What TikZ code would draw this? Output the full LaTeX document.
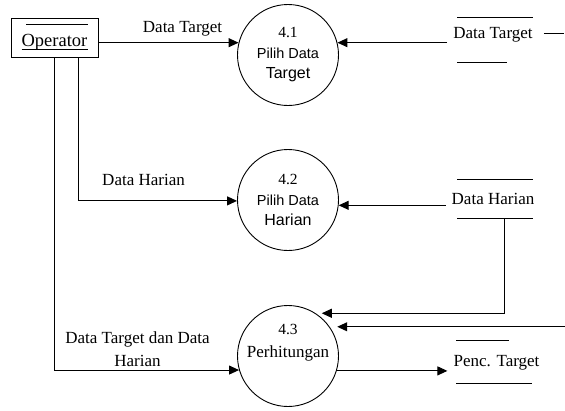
\documentclass[tikz,border=0pt]{standalone}
\usepackage{fontspec}
\setmainfont{Liberation Serif}
\newfontfamily\arialfam{Liberation Sans}
\usetikzlibrary{arrows.meta}
% font switches for the process bubbles
\newcommand{\dfdnum}{\fontsize{15.5}{20.5}\selectfont}
\newcommand{\dfdsans}{\arialfam\fontsize{14.5}{20.5}\selectfont}
\newcommand{\dfdbig}{\arialfam\fontsize{16}{20.5}\selectfont}
\begin{document}
\begin{tikzpicture}[x=1pt,y=-1pt,
  flow/.style={line width=1pt,-{Triangle[length=10pt,width=9pt]}},
  proc/.style={circle,draw,line width=0.9pt,minimum size=101pt,inner sep=0pt,
    align=center,font=\fontsize{15}{20.5}\selectfont},
  lbl/.style={font=\fontsize{17}{23}\selectfont,inner sep=0pt,align=center},
  store/.style={font=\fontsize{17}{20}\selectfont,inner ysep=0pt,inner xsep=6pt},
  bar/.style={line width=1pt}]
\useasboundingbox (0,0) rectangle (565,410);

% external entity
\node[draw,line width=1pt,minimum width=87pt,minimum height=39pt,inner sep=0pt,
  text height=20pt,text depth=2pt,font=\fontsize{18.5}{20}\selectfont]
  (op) at (54.5,37.5) {Operator};
\draw[bar] ([xshift=15.5pt,yshift=-7pt]op.north west) -- ([xshift=-11pt,yshift=-7pt]op.north east);
\draw[line width=0.9pt] ([xshift=-33pt,yshift=-11.5pt]op.center) -- ++(66,0);

% processes
\node[proc] (p41) at (288,55) {{\dfdnum 4.1}\\{\dfdsans Pilih Data}\\{\dfdbig Target}};
\node[proc] (p42) at (288,200) {{\dfdnum 4.2}\\{\dfdsans Pilih Data}\\{\dfdbig Harian}};
\node[proc] (p43) at (288,356) {};
\node[lbl] (t43) at (288,343) {{\fontsize{15.5}{22}\selectfont 4.3}\\Perhitungan};

% data stores
\node[store] (s1) at (493,35) {Data Target};
\draw[bar] ([xshift=-36pt,yshift=18pt]s1.center) -- ++(76,0);
\draw[bar] ([xshift=-36pt,yshift=-27pt]s1.center) -- ++(50,0);
\draw[bar] ([xshift=5pt,yshift=2pt]s1.east) -- ++(20,0);

\node[store] (s2) at (493,199) {Data Harian};
\draw[bar] ([xshift=-36pt,yshift=20pt]s2.center) -- ++(76,0);
\draw[bar] ([xshift=-36pt,yshift=-19pt]s2.center) -- ++(76,0);
\coordinate (s2b) at ([xshift=11pt,yshift=-19pt]s2.center);

\node[store] (s3) at (496.5,362.5) {Penc. Target};
\draw[bar] ([xshift=-40.5pt,yshift=22.5pt]s3.center) -- ++(53,0);
\draw[bar] ([xshift=-40.5pt,yshift=-20.5pt]s3.center) -- ++(76,0);

\coordinate (rim) at (565,0);

% data flows
\draw[flow] (op.east |- p41.166) -- node[lbl,pos=0.6,yshift=14pt]{Data Target} (p41.166);
\draw[flow] ([xshift=23.5pt]op.south) |- node[lbl,pos=0.706,yshift=21pt]{Data Harian} (p42.181);
\draw[flow] (op.south) |- node[lbl,pos=0.725,yshift=21pt]{Data Target dan Data\\Harian} (p43.196);

\draw[flow] (s1.west |- p41.14) -- (p41.14);
\draw[flow] (s2.west |- p42.354) -- (p42.354);
\draw[flow,shorten >=6pt] (s2b) |- (p43.57);
\draw[flow,shorten >=7.5pt] (rim |- p43.35) -- (p43.35);
\draw[flow] (p43.343) -- (p43.343 -| s3.west);
\end{tikzpicture}
\end{document}
